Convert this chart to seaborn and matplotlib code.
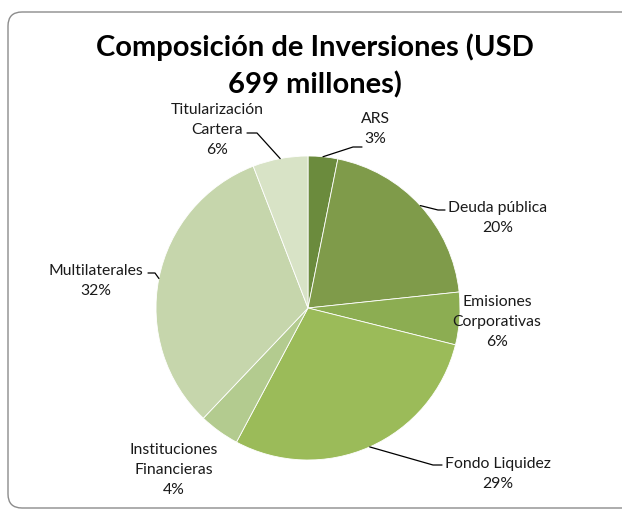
import matplotlib
matplotlib.use('Agg')
import numpy as np
import matplotlib.pyplot as plt
from matplotlib.patches import FancyBboxPatch
import seaborn as sns

# Datos (USD millones)
categorias = ['ARS', 'Deuda pública', 'Emisiones\nCorporativas', 'Fondo Liquidez',
              'Instituciones\nFinancieras', 'Multilaterales', 'Titularización\nCartera']
montos = [22, 141, 39, 202, 30, 224, 41]
colores = ['#6B8B3D', '#7F9B4A', '#8CAD52', '#9BBB59', '#B3CB8F', '#C6D6AC', '#D8E3C6']

sns.set_theme(style='white')
plt.rcParams['font.family'] = ['Lato', 'DejaVu Sans']

W, H = 622, 514
fig = plt.figure(figsize=(W / 100, H / 100), dpi=100)
ax = fig.add_axes([0, 0, 1, 1])

# marco redondeado
marco = FancyBboxPatch((8, 6), 640, 496, boxstyle='round,pad=0,rounding_size=14',
                       fc='white', ec='#8c8c8c', lw=1.0, zorder=0)
ax.add_patch(marco)

cx, cy, r = 308, H - 308, 152
wedges, _ = ax.pie(montos, colors=colores, startangle=90, counterclock=False,
                   center=(cx, cy), radius=r, frame=True,
                   wedgeprops=dict(edgecolor='white', linewidth=0.6))
ax.set_xlim(0, W)
ax.set_ylim(0, H)
ax.set_aspect('equal')
ax.axis('off')

total = sum(montos)
pct = [round(100 * m / total) for m in montos]

# posiciones de etiquetas (x, y en pixeles desde arriba) y codo del conector
etiquetas = {
    0: ((375, 129), [(353, 147), (362, 147)]),
    1: ((498, 218), [(438, 210), (445, 210)]),
    2: ((497, 322), None),
    3: ((498, 474), [(433, 465), (442, 465)]),
    4: ((174, 470), None),
    5: ((96, 281), [(155, 273), (148, 273)]),
    6: ((217, 130), [(257, 133), (247, 133)]),
}

for i, w in enumerate(wedges):
    (tx, ty), codo = etiquetas[i]
    ax.text(tx, H - ty, f'{categorias[i]}\n{pct[i]}%', ha='center', va='center',
            fontsize=11.3, color='#1a1a1a', linespacing=1.55)
    if codo:
        ang = np.deg2rad((w.theta1 + w.theta2) / 2)
        x0, y0 = cx + r * np.cos(ang), cy + r * np.sin(ang)
        xs = [x0] + [p[0] for p in codo]
        ys = [y0] + [H - p[1] for p in codo]
        ax.plot(xs, ys, color='black', lw=0.9)

ax.text(315, H - 66, 'Composición de Inversiones (USD\n699 millones)', ha='center',
        va='center', fontsize=21, fontweight='bold', color='black', linespacing=1.45)

fig.savefig('out.png', dpi=100)
